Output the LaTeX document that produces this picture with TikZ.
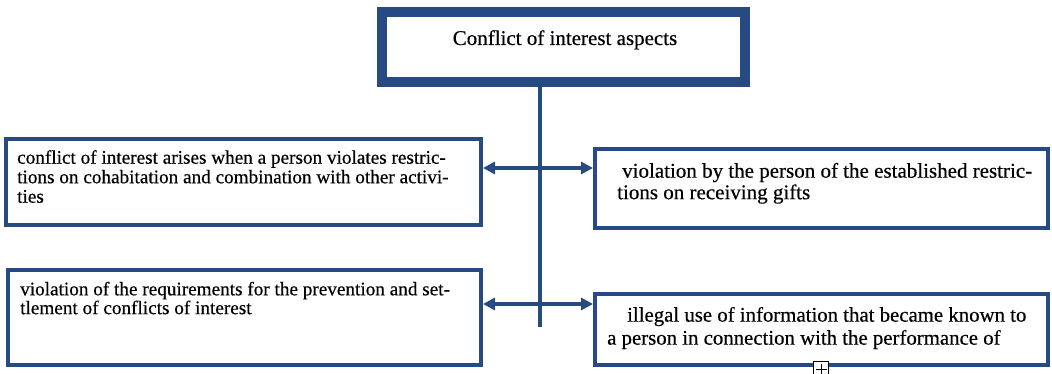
\documentclass[tikz,border=0pt]{standalone}
\usepackage{fontspec}
\setmainfont{Liberation Serif}[FakeBold=0.4]
\usetikzlibrary{arrows.meta}
\definecolor{dblue}{RGB}{40,74,130}
\tikzset{
  thinbox/.style={draw=dblue, line width=4pt, fill=white, inner sep=0pt},
  bodytext/.style 2 args={inner sep=0pt, anchor=north west, align=left, font=\fontsize{#1}{#2}\selectfont},
  arr/.style={draw=dblue, line width=4pt, -{Triangle[length=12pt,width=12pt]}},
  stem/.style={draw=dblue, line width=4pt}
}
\begin{document}
\begin{tikzpicture}[x=1pt,y=-1pt]
\useasboundingbox (0,0) rectangle (1052,374);
% top box
\node[draw=dblue, line width=10pt, fill=white, inner sep=0pt, minimum width=363pt, minimum height=70pt] (top) at (563.5,47) {};
\node[inner sep=0pt, anchor=base, font=\fontsize{21}{24}\selectfont] (title) at (565,45) {Conflict of interest aspects};
% stem
\coordinate (vend) at (540,327);
\coordinate (j1) at (540,168);
\coordinate (j2) at (540,304);
\draw[stem] (top.south -| vend) -- (vend);
% boxes
\node[thinbox, minimum width=475pt, minimum height=86pt] (L1) at (243.5,182) {};
\node[thinbox, minimum width=453pt, minimum height=79pt] (R1) at (821.5,188.5) {};
\node[thinbox, minimum width=473pt, minimum height=95pt] (L2) at (244.5,317.5) {};
\node[thinbox, minimum width=453pt, minimum height=71pt] (R2) at (821.5,329.5) {};
% texts
\node[bodytext={19.2}{19.5}] (L1t) at (17,150) {conflict of interest arises when a person violates restric-\\tions on cohabitation and combination with other activi-\\ties};
\node[bodytext={21}{21.5}] (R1t) at (617,162.7) {\hspace*{5pt}violation by the person of the established restric-\\tions on receiving gifts};
\node[bodytext={19.2}{18.8}] (L2t) at (20,281.6) {violation of the requirements for the prevention and set-\\tlement of conflicts of interest};
\node[bodytext={20.8}{23}] (R2t) at (607,306.8) {\hspace*{20pt}illegal use of information that became known to\\a person in connection with the performance of};
% arrows
\draw[arr] (j1) -- (L1.east |- j1);
\draw[arr] (j1) -- (R1.west |- j1);
\draw[arr] (j2) -- (L2.east |- j2);
\draw[arr] (j2) -- (R2.west |- j2);
% small anchor icon
\node[draw=black, line width=1pt, fill=white, minimum size=15pt, inner sep=0pt] (pl) at (821,369) {};
\draw[black, line width=1pt, shorten <=2.5pt, shorten >=2.5pt] (pl.north) -- (pl.south);
\draw[black, line width=1pt, shorten <=2.5pt, shorten >=2.5pt] (pl.west) -- (pl.east);
\end{tikzpicture}
\end{document}
